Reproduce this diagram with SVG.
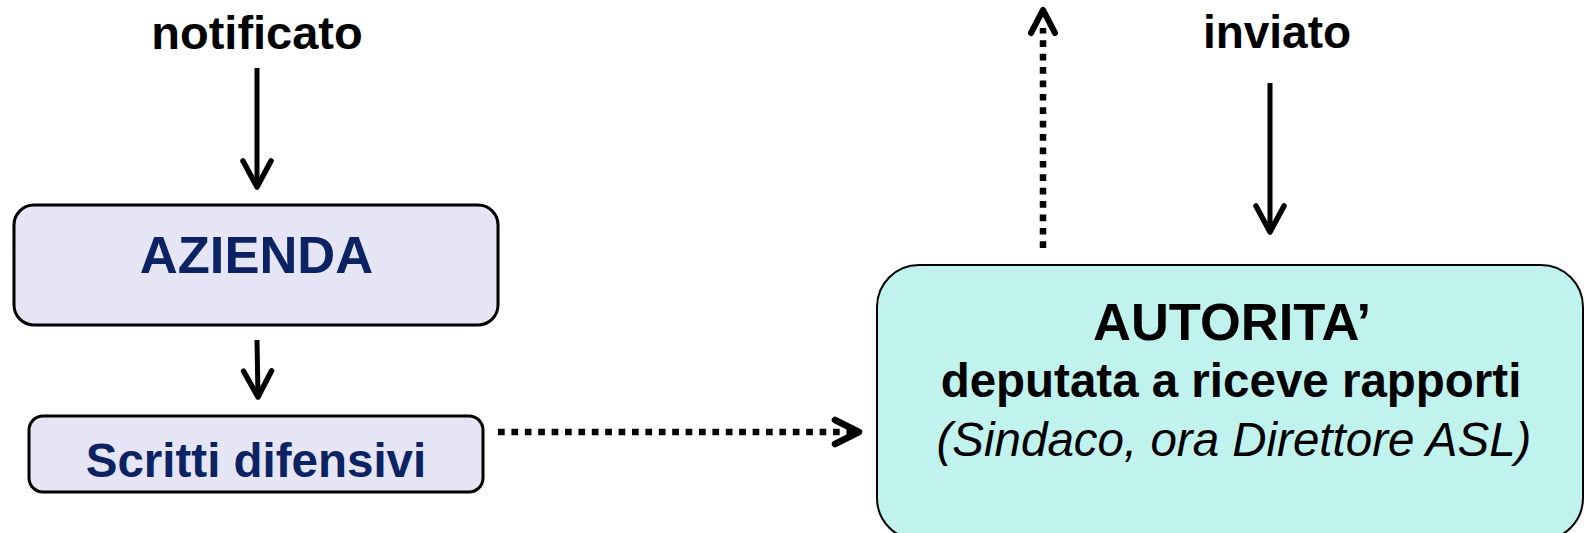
<svg xmlns="http://www.w3.org/2000/svg" width="1585" height="533" viewBox="0 0 1585 533">
<style>
.lbl{font-family:"Liberation Sans",Arial,sans-serif;font-weight:bold;fill:#000;text-anchor:middle}
.nav{font-family:"Liberation Sans",Arial,sans-serif;font-weight:bold;fill:#0B2263;text-anchor:middle}
.blk{font-family:"Liberation Sans",Arial,sans-serif;fill:#000;text-anchor:middle}
.boxL{fill:#E5E5F6;stroke:#000;stroke-width:3}
.boxR{fill:#C1F3EE;stroke:#000;stroke-width:2}
.solid{stroke:#000;stroke-width:5;fill:none}
.dot{stroke:#000;stroke-width:6.5;fill:none;stroke-dasharray:6.7 6.7}
</style>
<defs>
<marker id="ah" markerUnits="userSpaceOnUse" orient="auto" refX="0" refY="0" markerWidth="60" markerHeight="60" viewBox="-40 -30 60 60" overflow="visible">
<path d="M -26 -14 L 0 0 L -26 14" fill="none" stroke="#000" stroke-width="5.5" stroke-linecap="round" stroke-linejoin="round"/>
</marker>
</defs>
<rect width="1585" height="533" fill="#fff"/>
<text class="lbl" x="257" y="49" font-size="47">notificato</text>
<text class="lbl" x="1277" y="48" font-size="46">inviato</text>
<g id="azienda">
<rect class="boxL" x="14" y="205" width="484" height="120" rx="20"/>
<text class="nav" x="256.5" y="273" font-size="52.5">AZIENDA</text>
</g>
<g id="scritti">
<rect class="boxL" x="29" y="416" width="454" height="76" rx="14"/>
<text class="nav" x="256" y="477" font-size="47.5">Scritti difensivi</text>
</g>
<g id="autorita">
<rect class="boxR" x="877" y="265" width="706" height="275" rx="42"/>
<text class="lbl" x="1232" y="340" font-size="52.5">AUTORITA’</text>
<text class="lbl" x="1231" y="397" font-size="47.5">deputata a riceve rapporti</text>
<text class="blk" x="1234" y="456" font-size="47.5" font-style="italic">(Sindaco, ora Direttore ASL)</text>
</g>
<g id="connectors">
<line class="solid" x1="257" y1="68" x2="257" y2="187" marker-end="url(#ah)"/>
<line class="solid" x1="257" y1="340" x2="258" y2="397" marker-end="url(#ah)"/>
<line class="solid" x1="1270" y1="83" x2="1270" y2="232" marker-end="url(#ah)"/>
<line class="dot" x1="498" y1="432" x2="852" y2="432"/>
<path d="M 835 420 L 859 432 L 835 444" fill="none" stroke="#000" stroke-width="6.5" stroke-linecap="round" stroke-linejoin="round"/>
<line class="dot" x1="1043" y1="248" x2="1043" y2="28"/>
<path d="M 1031 33 L 1043 10 L 1055 33" fill="none" stroke="#000" stroke-width="6" stroke-linecap="round" stroke-linejoin="round"/>
</g>
</svg>
